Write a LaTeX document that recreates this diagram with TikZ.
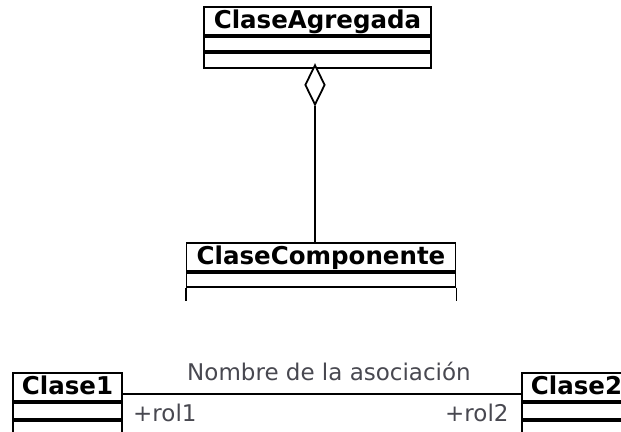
\documentclass[tikz,border=0pt]{standalone}
\usepackage{fontspec}
\setmainfont{DejaVu Sans}
\usetikzlibrary{shapes.geometric,positioning}
\definecolor{labelgray}{RGB}{72,72,80}
\tikzset{
  umlline/.style={line width=1.8pt, draw=black},
  classhead/.style={umlline, rectangle, inner sep=0pt, minimum height=28pt,
    text height=17pt, text depth=3pt, font=\fontsize{24.5pt}{27pt}\selectfont\bfseries, fill=white},
  compart/.style={umlline, rectangle, inner sep=0pt, minimum height=14pt, fill=white},
  assoclabel/.style={inner sep=0pt, text=labelgray, font=\fontsize{23pt}{26pt}\selectfont},
  aggdiamond/.style={umlline, diamond, shape aspect=0.5, inner sep=0pt,
    minimum width=20pt, minimum height=40pt, fill=white}
}
\begin{document}
\begin{tikzpicture}[x=1pt,y=-1pt]
\useasboundingbox (0,0) rectangle (621,431);
% ClaseAgregada
\node[classhead, minimum width=227pt] (agg) at (317.5,21) {ClaseAgregada};
\node[compart, minimum width=227pt, anchor=north] (agg1) at (agg.south) {};
\node[compart, minimum width=227pt, anchor=north, minimum height=15pt] (agg2) at (agg1.south) {};
% ClaseComponente
\node[classhead, minimum width=269pt] (comp) at (321,257) {ClaseComponente};
\node[compart, minimum width=269pt, anchor=north] (comp1) at (comp.south) {};
\coordinate (compbl) at ([yshift=-13pt]comp1.south west);
\coordinate (compbr) at ([yshift=-13pt]comp1.south east);
\draw[umlline] (comp1.south west) -- (compbl);
\draw[umlline] (comp1.south east) -- (compbr);
% aggregation
\node[aggdiamond, anchor=north] (dia) at (315,64) {};
\draw[umlline] (dia.south) -- (dia.south |- comp.north);
% Clase1
\node[classhead, minimum width=109pt] (c1) at (67.5,387) {Clase1};
\node[compart, minimum width=109pt, anchor=north, minimum height=16pt] (c1a) at (c1.south) {};
\node[compart, minimum width=109pt, anchor=north, minimum height=13pt] (c1b) at (c1a.south) {};
% Clase2
\node[classhead, minimum width=109pt] (c2) at (576.5,387) {Clase2};
\node[compart, minimum width=109pt, anchor=north, minimum height=16pt] (c2a) at (c2.south) {};
\node[compart, minimum width=109pt, anchor=north, minimum height=13pt] (c2b) at (c2a.south) {};
% association
\draw[umlline] ([yshift=-22pt]c1.north east) -- ([yshift=-22pt]c2.north west);
\node[assoclabel, anchor=base] (aname) at (329,380) {Nombre de la asociación};
\node[assoclabel, anchor=base west] (rol1) at (133,421) {+rol1};
\node[assoclabel, anchor=base west] (rol2) at (445,421) {+rol2};
\end{tikzpicture}
\end{document}
